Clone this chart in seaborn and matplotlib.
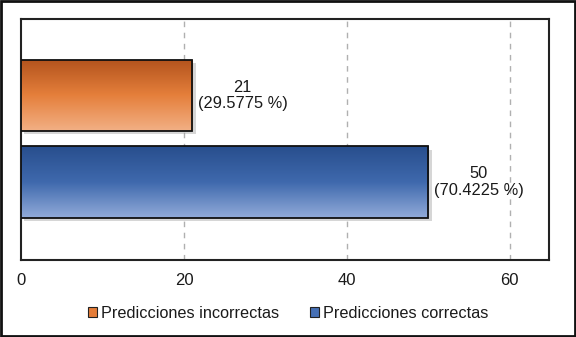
import numpy as np
import matplotlib
matplotlib.use("Agg")
import matplotlib.pyplot as plt
import matplotlib.transforms as mtransforms
from matplotlib.colors import LinearSegmentedColormap
from matplotlib.patches import Rectangle, Patch
import seaborn as sns

# data
categories = ["Predicciones incorrectas", "Predicciones correctas"]
counts = [21, 50]
percents = [29.5775, 70.4225]
x_ticks = [0, 20, 40, 60]

# gradient colours (top -> middle -> bottom of each bar)
gradients = [
    ["#b2531d", "#e57f3b", "#f2b085"],
    ["#284e8d", "#3f69ad", "#92abd9"],
]
legend_colors = ["#e47c38", "#4670b5"]

sns.set_style("white")
plt.rcParams["font.family"] = ["Liberation Sans", "DejaVu Sans"]

fig = plt.figure(figsize=(5.76, 3.37), dpi=100)
ax = fig.add_axes([0.0365, 0.2285, 0.9165, 0.715])

sns.barplot(x=counts, y=categories, hue=categories, orient="h",
            width=0.82, legend=False, ax=ax)

shadow_tf = ax.transData + mtransforms.ScaledTranslation(2.5 / 72, -2.5 / 72, fig.dpi_scale_trans)

for bar, cols in zip(ax.patches, gradients):
    x0, y0 = bar.get_x(), bar.get_y()
    w, h = bar.get_width(), bar.get_height()
    # soft drop shadow
    ax.add_patch(Rectangle((x0, y0), w, h, transform=shadow_tf,
                           facecolor="#9a9a9a", edgecolor="none", alpha=0.4, zorder=2))
    bar.set_facecolor("none")
    bar.set_edgecolor("#101010")
    bar.set_linewidth(1.3)
    bar.set_zorder(4)
    cmap = LinearSegmentedColormap.from_list("g", cols)
    grad = np.linspace(0, 1, 256).reshape(-1, 1)
    im = ax.imshow(grad, cmap=cmap, aspect="auto", origin="upper",
                   extent=(x0, x0 + w, y0 + h, y0), zorder=3, interpolation="bilinear")
    im.set_clip_path(bar)

ax.set_xlim(0, 64.8)
ax.set_ylim(1.9, -0.88)

# value labels
for bar, c, p in zip(ax.patches, counts, percents):
    ax.annotate(f"{c}\n({p} %)", xy=(bar.get_x() + bar.get_width(), bar.get_y() + bar.get_height() / 2),
                xytext=(4, 0), textcoords="offset points", ha="left", va="center",
                multialignment="center", fontsize=11.8, color="#1a1a1a", linespacing=1.1)

ax.set_xticks(x_ticks)
ax.set_yticks([])
ax.set_ylabel("")
ax.tick_params(axis="x", length=0, pad=9.5, labelsize=12, labelcolor="#1a1a1a")
for v in x_ticks[1:]:
    ax.axvline(v, color="#b0b0b0", linestyle=(0, (4, 4)), linewidth=1, zorder=1)
for s in ax.spines.values():
    s.set_visible(True)
    s.set_color("#222222")
    s.set_linewidth(1.5)

handles = [Patch(facecolor=c, edgecolor="#222222", linewidth=0.8) for c in legend_colors]
fig.legend(handles, categories, loc="center", bbox_to_anchor=(0.5, 0.071), ncol=2,
           frameon=False, fontsize=11.7, handlelength=0.55, handleheight=0.55,
           handletextpad=0.25, columnspacing=1.9, labelcolor="#1a1a1a")

# outer frame around the whole chart
fig.patches.append(Rectangle((0.002, 0.003), 0.996, 0.994, transform=fig.transFigure,
                             fill=False, edgecolor="#111111", linewidth=2))

fig.savefig("out.png", dpi=100)
